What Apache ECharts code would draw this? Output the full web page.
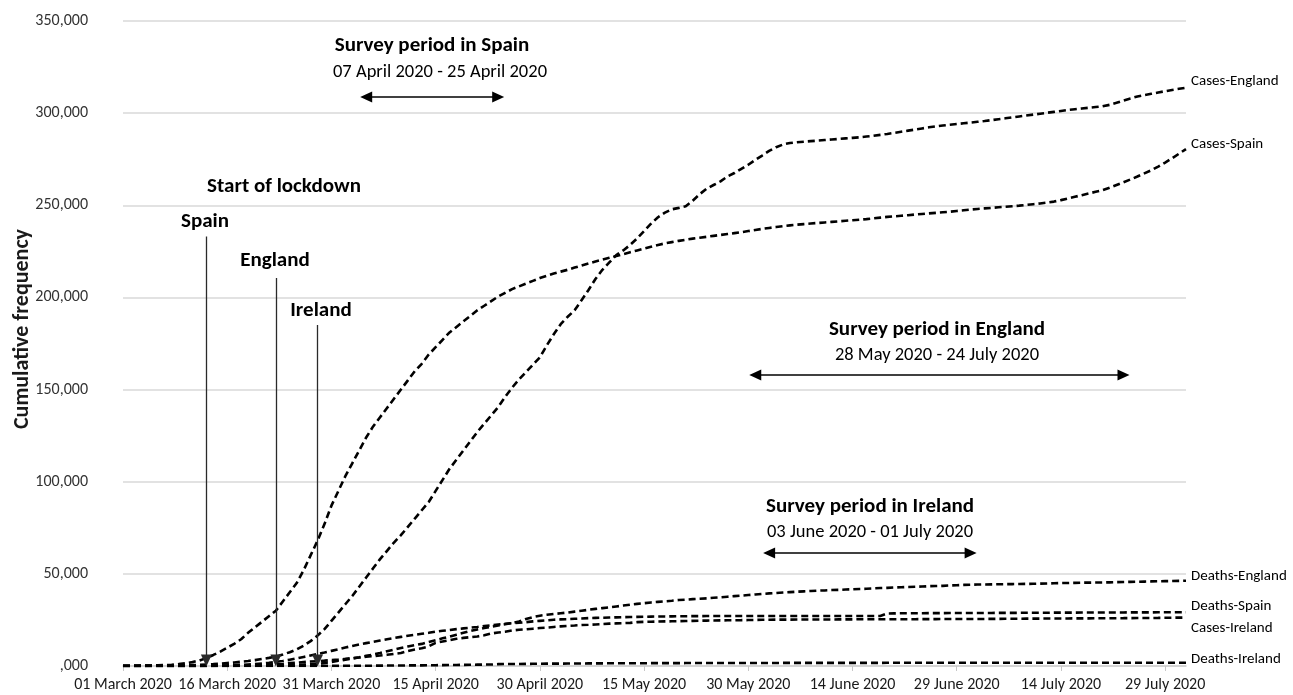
<!DOCTYPE html>
<html>
<head>
<meta charset="utf-8">
<script src="https://cdn.jsdelivr.net/npm/echarts@6/dist/echarts.min.js"></script>
<style>
html,body{margin:0;padding:0;background:#fff;}
#chart{width:1293px;height:695px;}
</style>
</head>
<body>
<div id="chart"></div>
<script>
// ---- data (daily, 01 March 2020 .. 01 August 2020) ----
const startYear = 2020, startMonth = 2, startDay = 1, dayCount = 154;
const monthNames = ['January','February','March','April','May','June','July','August','September','October','November','December'];

const seriesNames = ['Cases-England','Cases-Spain','Deaths-England','Deaths-Spain','Cases-Ireland','Deaths-Ireland'];
const yAxisTitle = 'Cumulative frequency';

const casesEngland = [30,40,50,70,100,140,180,230,290,350,
 450,570,800,1000,1300,1600,1900,2300,2700,3200,
 3800,4400,5100,6200,7500,9000,11000,13500,16500,20000,
 24500,29000,33500,38000,43000,48000,53000,58000,62500,67000,
 71000,75500,80000,84500,89000,95000,101000,107000,112000,117000,
 122000,127000,131500,136000,140500,146000,151000,155500,159500,163500,
 167500,174000,180000,185500,189500,193000,198500,204000,210000,215000,
 219000,223000,225500,228500,232000,236000,240000,243500,246000,247800,
 248600,249500,252500,256000,259000,261000,263000,265600,267500,269800,
 272000,274600,277000,279500,281500,283000,283800,284200,284500,284800,
 285100,285400,285700,286000,286300,286600,286900,287300,287700,288200,
 288700,289300,289900,290500,291100,291700,292300,292800,293300,293700,
 294100,294500,294900,295300,295700,296200,296700,297200,297700,298200,
 298700,299200,299700,300200,300700,301200,301700,302100,302500,302900,
 303300,303700,304500,305600,306800,308000,309000,309800,310500,311200,
 311900,312600,313200,313800];

const casesSpain = [100,120,160,220,280,400,520,670,1000,1500,
 2100,3000,4300,6000,7800,9900,12000,14500,18000,21000,
 24000,27000,30000,35000,40000,45000,52000,60000,68000,77000,
 87000,95000,103000,110000,117000,124000,130000,135000,140000,145000,
 150000,155000,160000,164000,169000,173000,177000,181000,184000,187000,
 190000,193000,195500,198000,200500,202500,204500,206000,207500,209000,
 210500,211800,213000,214000,215000,216200,217300,218400,219500,220500,
 221500,222500,223500,224500,225500,226500,227500,228500,229300,230000,
 230700,231300,231900,232400,232900,233400,233900,234400,234900,235400,
 236000,236600,237200,237700,238200,238700,239100,239500,239800,240100,
 240400,240700,241000,241300,241600,241900,242200,242500,242900,243300,
 243700,244000,244300,244600,245000,245300,245600,245900,246200,246500,
 246900,247300,247700,248000,248300,248600,248900,249200,249500,249800,
 250200,250600,251000,251500,252000,252800,253700,254600,255500,256400,
 257300,258200,259500,261000,262500,264000,265600,267300,269000,271000,
 273200,275500,278000,280500];

const deathsEngland = [0,0,0,0,0,1,2,3,4,6,
 8,10,14,22,35,55,70,100,140,180,
 230,280,330,400,460,580,760,950,1200,1600,
 2200,2800,3400,4000,4700,5500,6200,7000,8000,8900,
 9800,10600,11300,12000,13000,14000,15000,16000,17000,18000,
 19000,19800,20600,21300,22000,22700,23400,24100,25500,26500,
 27300,27800,28200,28600,29000,29500,30000,30500,31000,31400,
 31800,32300,32800,33300,33700,34100,34500,34800,35100,35400,
 35800,36000,36300,36500,36700,37000,37300,37600,37900,38200,
 38500,38800,39100,39400,39600,39900,40100,40300,40500,40700,
 40900,41000,41200,41300,41500,41600,41800,41900,42100,42300,
 42400,42600,42700,42900,43000,43100,43300,43400,43500,43700,
 43800,44000,44100,44200,44250,44300,44350,44400,44450,44500,
 44550,44600,44700,44800,44900,45000,45050,45100,45200,45250,
 45300,45350,45400,45500,45600,45650,45700,45800,45900,46000,
 46050,46100,46200,46300];

const deathsSpain = [0,0,1,1,2,3,5,10,30,35,
 55,85,120,195,290,340,530,620,830,1040,
 1330,1760,2200,2700,3400,4100,4900,5700,6500,7300,
 8200,9100,10000,10900,11700,12400,13100,13800,14500,15200,
 15800,16400,16900,17500,18000,18600,19100,19500,20000,20400,
 20800,21200,21700,22100,22500,22900,23200,23500,23800,24200,
 24500,24800,25100,25300,25400,25600,25800,26000,26100,26200,
 26300,26400,26500,26600,26650,26700,26800,26850,26900,26950,
 27000,27000,27050,27050,27100,27100,27100,27100,27100,27100,
 27100,27100,27100,27120,27120,27120,27130,27130,27130,27130,
 27130,27140,27140,27140,27140,27140,27140,27150,27150,27150,
 28500,28550,28600,28600,28650,28650,28700,28700,28700,28750,
 28750,28750,28800,28800,28800,28800,28850,28850,28850,28850,
 28900,28900,28900,28900,28950,28950,28950,28950,29000,29000,
 29000,29000,29050,29050,29050,29100,29100,29100,29100,29150,
 29150,29150,29200,29200];

const casesIreland = [0,0,1,1,2,6,13,18,21,24,
 34,43,70,90,129,169,223,292,366,557,
 683,785,906,1125,1564,1819,2121,2415,2615,2910,
 3235,3447,3849,4273,4604,4994,5364,5709,6074,6574,
 7054,8089,8928,9655,10647,12547,13271,13980,14758,15251,
 15652,16040,16671,17607,18184,18561,19262,19648,19877,20253,
 20612,20833,21176,21506,21772,21983,22248,22385,22541,22760,
 22996,23135,23242,23401,23827,23956,24048,24112,24200,24251,
 24315,24391,24506,24582,24639,24698,24735,24803,24841,24876,
 24929,24990,25062,25111,25142,25163,25183,25201,25207,25215,
 25231,25238,25250,25295,25303,25321,25341,25355,25368,25374,
 25379,25383,25391,25396,25405,25437,25439,25462,25473,25477,
 25489,25498,25527,25538,25542,25565,25589,25611,25628,25638,
 25683,25698,25730,25750,25760,25766,25802,25826,25845,25869,
 25881,25892,25929,25942,25954,25996,26027,26040,26065,26109,
 26162,26208,26253,26303];

const deathsIreland = [0,0,0,0,0,0,0,0,0,0,
 1,1,1,2,2,2,2,2,3,3,
 3,4,6,7,9,19,22,36,46,54,
 71,85,98,120,137,158,174,210,235,263,
 288,320,334,365,406,444,486,530,571,610,
 687,730,769,794,1014,1063,1087,1102,1159,1190,
 1232,1265,1286,1303,1319,1339,1375,1403,1429,1446,
 1458,1467,1488,1497,1506,1518,1533,1543,1547,1561,
 1571,1592,1604,1606,1606,1608,1615,1631,1639,1645,
 1650,1652,1658,1659,1664,1670,1679,1683,1691,1695,
 1703,1706,1708,1709,1710,1714,1715,1714,1717,1720,
 1727,1734,1735,1735,1736,1738,1739,1741,1742,1742,
 1742,1743,1744,1746,1746,1748,1748,1749,1749,1750,
 1750,1752,1753,1753,1754,1754,1754,1756,1757,1757,
 1758,1759,1760,1761,1762,1763,1763,1763,1763,1763,
 1763,1763,1763,1763];

// annotation anchors (category index, value)
const lockdownNames = ['Spain','England','Ireland'];
const lockdownIndex = [12, 22, 28];
const lockdownTop = [233000, 210500, 185000];
const arrowBottom = 3000;
const surveyTitles = ['Survey period in Spain','Survey period in England','Survey period in Ireland'];
const surveyRanges = ['07 April 2020 - 25 April 2020','28 May 2020 - 24 July 2020','03 June 2020 - 01 July 2020'];
const surveyFrom = [35, 91, 93];
const surveyTo = [54, 144, 122];
const surveyLevel = [308700, 157900, 61300];

// ---- build categories ----
const categories = [];
for (let i = 0; i < dayCount; i++) {
  const d = new Date(Date.UTC(startYear, startMonth, startDay + i));
  const dd = String(d.getUTCDate()).padStart(2, '0');
  categories.push(dd + ' ' + monthNames[d.getUTCMonth()] + ' ' + d.getUTCFullYear());
}

const FONT = 'Carlito, Lato, "Open Sans", sans-serif';
const seriesData = [casesEngland, casesSpain, deathsEngland, deathsSpain, casesIreland, deathsIreland];
const endOffsets = [[0,-6],[0,-5],[0,-4],[0,-6],[0,11],[0,-4]];

const markData = [];
for (let k = 0; k < 3; k++) {
  markData.push([
    {coord: [lockdownIndex[k], lockdownTop[k]], symbol: 'none', lineStyle: {color: '#2a2a2a', width: 1.3}},
    {coord: [lockdownIndex[k], arrowBottom], symbol: 'triangle', symbolSize: [11, 12]}
  ]);
  markData.push([
    {coord: [surveyFrom[k], surveyLevel[k]], symbol: 'triangle', symbolSize: [11, 12], lineStyle: {color: '#000', width: 1.5}},
    {coord: [surveyTo[k], surveyLevel[k]], symbol: 'triangle', symbolSize: [11, 12]}
  ]);
}

const series = seriesNames.map((name, i) => {
  const s = {
    name: name,
    type: 'line',
    data: seriesData[i],
    showSymbol: false,
    symbol: 'none',
    smooth: false,
    z: 3,
    lineStyle: {color: '#000', width: 2.6, type: [7, 4]},
    emphasis: {disabled: true},
    endLabel: {
      show: true,
      formatter: name,
      color: '#000',
      fontSize: 15,
      fontFamily: FONT,
      distance: 5,
      offset: endOffsets[i]
    }
  };
  if (i === 0) {
    s.markLine = {
      silent: true,
      animation: false,
      symbol: ['none', 'triangle'],
      label: {show: false},
      lineStyle: {type: 'solid', color: '#000', width: 1.3},
      emphasis: {disabled: true},
      data: markData
    };
  }
  return s;
});

const textEl = (text, x, y, bold, size) => ({
  type: 'text',
  x: x, y: y,
  style: {
    text: text,
    fill: '#000',
    font: (bold ? 'bold ' : '') + size + 'px ' + FONT,
    textAlign: 'center',
    textVerticalAlign: 'middle'
  }
});

const chart = echarts.init(document.getElementById('chart'));
chart.setOption({
  animation: false,
  backgroundColor: '#fff',
  grid: {left: 123, right: 107, top: 21, bottom: 29, containLabel: false, outerBoundsMode: 'none'},
  xAxis: {
    type: 'category',
    data: categories,
    boundaryGap: false,
    axisLine: {lineStyle: {color: '#d0d0d0', width: 1.5}},
    axisTick: {show: true, interval: 14, length: 5, lineStyle: {color: '#c8c8c8'}},
    axisLabel: {interval: 14, color: '#1a1a1a', fontSize: 16, fontFamily: FONT, margin: 11},
    splitLine: {show: false}
  },
  yAxis: {
    type: 'value',
    min: 0, max: 350000, interval: 50000,
    axisLine: {show: false},
    axisTick: {show: false},
    axisLabel: {
      color: '#333', fontSize: 16, fontFamily: FONT, margin: 35,
      formatter: v => v === 0 ? ',000' : v.toLocaleString('en-US')
    },
    splitLine: {lineStyle: {color: '#d9d9d9', width: 1.5}}
  },
  series: series,
  graphic: [
    {
      type: 'text', x: 22, y: 329, rotation: Math.PI / 2,
      style: {text: yAxisTitle, fill: '#1a1a1a', font: 'bold 22px ' + FONT, textAlign: 'center', textVerticalAlign: 'middle'}
    },
    textEl(surveyTitles[0], 432, 46, true, 21),
    textEl(surveyRanges[0], 440, 72, false, 18.5),
    textEl('Start of lockdown', 284, 187, true, 21),
    textEl(lockdownNames[0], 205, 222, true, 21),
    textEl(lockdownNames[1], 275, 261, true, 21),
    textEl(lockdownNames[2], 321, 311, true, 21),
    textEl(surveyTitles[1], 937, 330, true, 21),
    textEl(surveyRanges[1], 937, 355, false, 18.5),
    textEl(surveyTitles[2], 870, 507, true, 21),
    textEl(surveyRanges[2], 870, 532, false, 18.5)
  ]
});
</script>
</body>
</html>
